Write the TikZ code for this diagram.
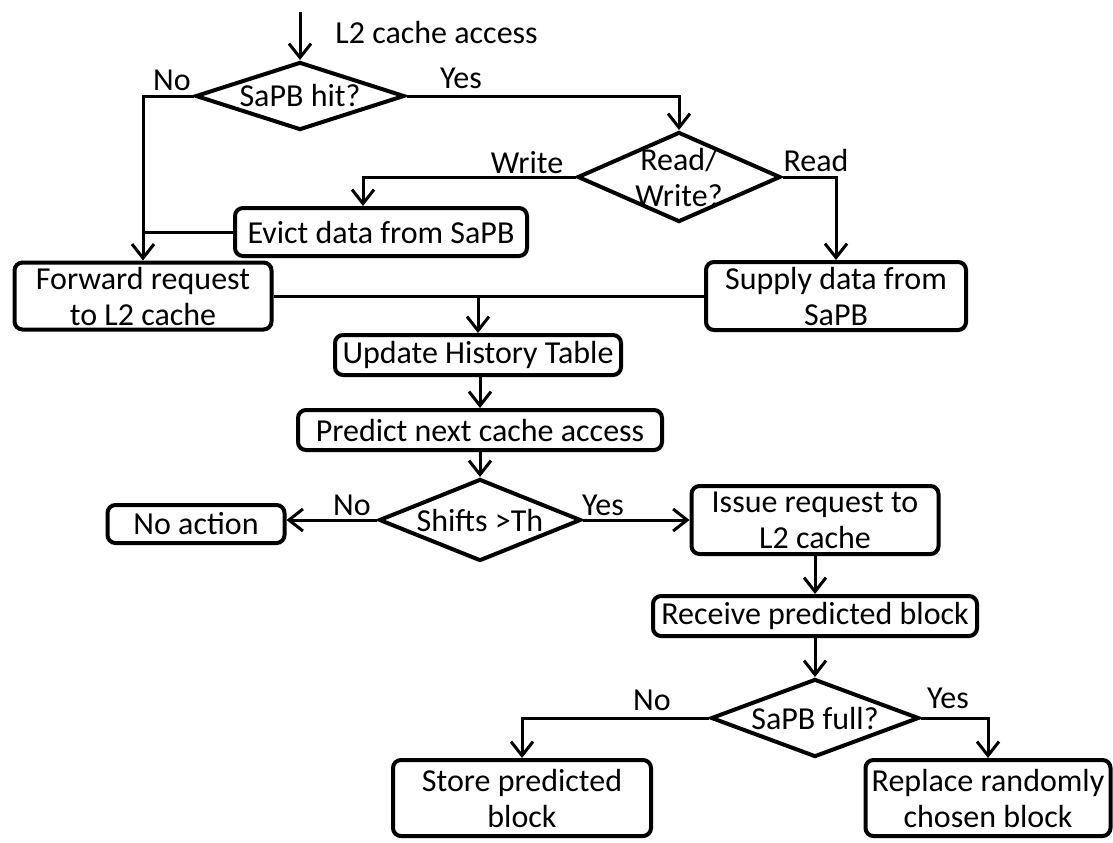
\documentclass[tikz,border=0pt]{standalone}
\usepackage{fontspec}
\setmainfont{Carlito}
\usetikzlibrary{shapes.geometric,arrows.meta,calc}
\begin{document}
\begin{tikzpicture}[x=0.5pt,y=-0.5pt,
  every node/.style={font=\fontsize{16}{18}\selectfont, inner sep=0pt},
  box/.style={draw, line width=2pt, rounded corners=4pt, align=center},
  dec/.style={draw, diamond, line width=2pt, inner sep=0pt},
  conn/.style={line width=1.5pt, -{Straight Barb[length=7pt,width=11pt,line width=1.5pt]}},
  plain/.style={line width=1.5pt}
]
\useasboundingbox (0,0) rectangle (1113,842);

% decisions
\node[dec, minimum width=104.5pt, minimum height=34pt, label={center:SaPB hit?}] (d1) at (300,96) {};
\node[dec, minimum width=101.5pt, minimum height=45pt, label={[align=center]center:Read/\\Write?}] (d2) at (679,177) {};
\node[dec, minimum width=101pt, minimum height=41pt, label={center:Shifts >Th}] (d3) at (480,520) {};
\node[dec, minimum width=104pt, minimum height=39pt, label={center:SaPB full?}] (d4) at (815,718) {};

% boxes
\node[box, minimum width=146pt, minimum height=24pt] (evict) at (381,232) {Evict data from SaPB};
\node[box, minimum width=128.5pt, minimum height=33.5pt] (fwd) at (143,296) {Forward request\\to L2 cache};
\node[box, minimum width=130pt, minimum height=34pt] (supply) at (836,296) {Supply data from\\SaPB};
\node[box, minimum width=143pt, minimum height=20pt] (update) at (478,355) {Update History Table};
\node[box, minimum width=182pt, minimum height=20pt] (predict) at (480,430) {Predict next cache access};
\node[box, minimum width=88.5pt, minimum height=19pt] (noact) at (196,524) {No action};
\node[box, minimum width=123.5pt, minimum height=34pt] (issue) at (815,520) {Issue request to\\L2 cache};
\node[box, minimum width=162pt, minimum height=20pt] (recv) at (815,616) {Receive predicted block};
\node[box, minimum width=129pt, minimum height=38pt] (store) at (522,798) {Store predicted\\block};
\node[box, minimum width=122.5pt, minimum height=38pt] (repl) at (988,798) {Replace randomly\\chosen block};

% entry
\coordinate (start) at (300,12);
\draw[conn] (start) -- (d1.north);
\node[anchor=west] (entry) at (335,33) {L2 cache access};

% connectors
\draw[conn] (d1.west) -| (fwd.north);
\draw[plain] (evict.west) -- (evict.west -| fwd.north);
\draw[conn] (d1.east) -| (d2.north);
\draw[conn] (d2.west) -| ([xshift=-9pt]evict.north);
\draw[conn] (d2.east) -| (supply.north);
\coordinate (merge) at (update.north |- fwd.east);
\draw[plain] (fwd.east) -- (merge);
\draw[plain] (supply.west) -- (merge);
\draw[conn] (merge) -- (update.north);
\draw[conn] (update.south -| predict.north) -- (predict.north);
\draw[conn] (predict.south) -- (d3.north);
\draw[conn] (d3.west) -- (d3.west -| noact.east);
\draw[conn] (d3.east) -- (issue.west);
\draw[conn] (issue.south) -- (recv.north);
\draw[conn] (recv.south) -- (d4.north);
\draw[conn] (d4.west) -| (store.north);
\draw[conn] (d4.east) -| (repl.north);

% branch labels
\node (l1) at (172,80) {No};
\node (l2) at (461,78) {Yes};
\node (l3) at (527,163) {Write};
\node (l4) at (816,160) {Read};
\node (l5) at (352,505) {No};
\node (l6) at (603,505) {Yes};
\node (l7) at (652,700) {No};
\node (l8) at (948,698) {Yes};
\end{tikzpicture}
\end{document}
